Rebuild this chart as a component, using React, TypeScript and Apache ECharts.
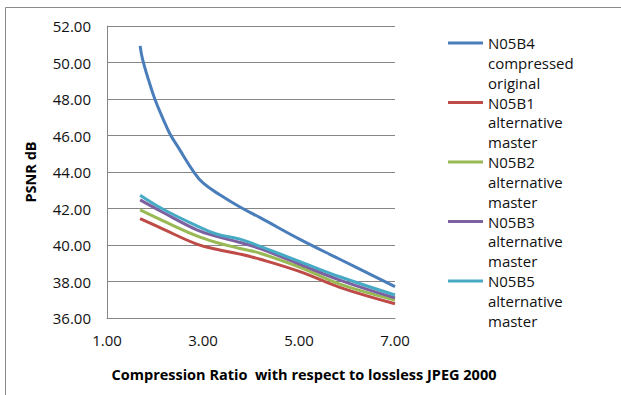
import React, { useEffect, useRef } from "react";
import * as echarts from "echarts";

const seriesNames = [
  "N05B4\ncompressed\noriginal",
  "N05B1\nalternative\nmaster",
  "N05B2\nalternative\nmaster",
  "N05B3\nalternative\nmaster",
  "N05B5\nalternative\nmaster",
];
const seriesColors = ["#4A7EBB", "#BE4B48", "#98B954", "#7D60A0", "#46AAC5"];

const b4: [number, number][] = [
  [1.69, 50.91], [1.74, 50.18], [1.86, 49.09], [2.0, 47.97], [2.17, 46.9], [2.31, 46.1],
  [2.52, 45.2], [2.8, 44.03], [3.0, 43.4], [3.35, 42.75], [3.77, 42.08], [4.19, 41.5],
  [5.02, 40.31], [5.85, 39.22], [7.0, 37.72],
];
const b1: [number, number][] = [
  [1.69, 41.45], [2.17, 40.87], [2.87, 40.05], [3.28, 39.77], [3.77, 39.5], [4.19, 39.22],
  [5.02, 38.54], [5.85, 37.68], [7.0, 36.78],
];
const b2: [number, number][] = [
  [1.69, 41.92], [2.17, 41.32], [2.87, 40.5], [3.28, 40.14], [3.77, 39.81], [4.19, 39.55],
  [5.02, 38.78], [5.85, 37.86], [7.0, 36.99],
];
const b3: [number, number][] = [
  [1.69, 42.47], [2.17, 41.78], [2.87, 40.83], [3.28, 40.47], [3.77, 40.14], [4.19, 39.8],
  [5.02, 38.94], [5.85, 38.08], [7.0, 37.1],
];
const b5: [number, number][] = [
  [1.69, 42.73], [2.17, 41.96], [2.87, 41.05], [3.28, 40.6], [3.77, 40.32], [4.19, 39.92],
  [5.02, 39.09], [5.85, 38.26], [7.0, 37.26],
];
const seriesData = [b4, b1, b2, b3, b5];

const xAxisTitle = "Compression Ratio  with respect to lossless JPEG 2000";
const yAxisTitle = "PSNR dB";

export default function App() {
  const ref = useRef<HTMLDivElement>(null);
  useEffect(() => {
    if (!ref.current) return;
    const chart = echarts.init(ref.current, null, { renderer: "svg" });
    const font = "'Open Sans', sans-serif";
    chart.setOption({
      animation: false,
      backgroundColor: "#ffffff",
      graphic: [
        {
          type: "rect",
          shape: { x: 5.5, y: 7.5, width: 700, height: 500 },
          style: { fill: "none", stroke: "#8a8a8a", lineWidth: 1 },
          silent: true,
        },
      ],
      grid: { left: 107, right: 226, top: 26, bottom: 77, containLabel: false },
      legend: {
        orient: "vertical",
        left: 448,
        top: -6.5,
        padding: 0,
        itemWidth: 35,
        itemHeight: 3,
        itemGap: -39.5,
        icon: "rect",
        data: seriesNames,
        formatter: (name: string) => "\n\n" + name,
        textStyle: {
          fontFamily: font,
          fontSize: 15,
          color: "#111",
          lineHeight: 19.8,
        },
      },
      xAxis: {
        type: "value",
        min: 1,
        max: 7,
        interval: 2,
        name: xAxisTitle,
        nameLocation: "middle",
        nameGap: 49,
        nameTextStyle: {
          fontFamily: font,
          fontSize: 14.5,
          fontWeight: "bold",
          color: "#000",
          padding: [0, 0, 0, 106],
        },
        axisLine: { show: true, lineStyle: { color: "#868686", width: 1 } },
        axisTick: { show: false },
        splitLine: { show: false },
        axisLabel: {
          fontFamily: font,
          fontSize: 15,
          color: "#111",
          margin: 14,
          formatter: (v: number) => v.toFixed(2),
        },
      },
      yAxis: {
        type: "value",
        min: 36,
        max: 52,
        interval: 2,
        name: yAxisTitle,
        nameLocation: "middle",
        nameGap: 69,
        nameRotate: 90,
        nameTextStyle: {
          fontFamily: font,
          fontSize: 14.5,
          fontWeight: "bold",
          color: "#000",
        },
        axisLine: { show: true, lineStyle: { color: "#868686", width: 1 } },
        axisTick: { show: false },
        splitLine: { show: true, lineStyle: { color: "#868686", width: 1 } },
        axisLabel: {
          fontFamily: font,
          fontSize: 15,
          color: "#111",
          margin: 16,
          formatter: (v: number) => v.toFixed(2),
        },
      },
      series: seriesData.map((d, i) => ({
        type: "line",
        name: seriesNames[i],
        data: d,
        smooth: 0.4,
        showSymbol: false,
        symbol: "none",
        color: seriesColors[i],
        lineStyle: { width: 3, color: seriesColors[i] },
      })),
    });
    return () => chart.dispose();
  }, []);
  return (
    <div
      ref={ref}
      style={{ position: "fixed", left: 0, top: 0, width: 621, height: 395 }}
    />
  );
}
